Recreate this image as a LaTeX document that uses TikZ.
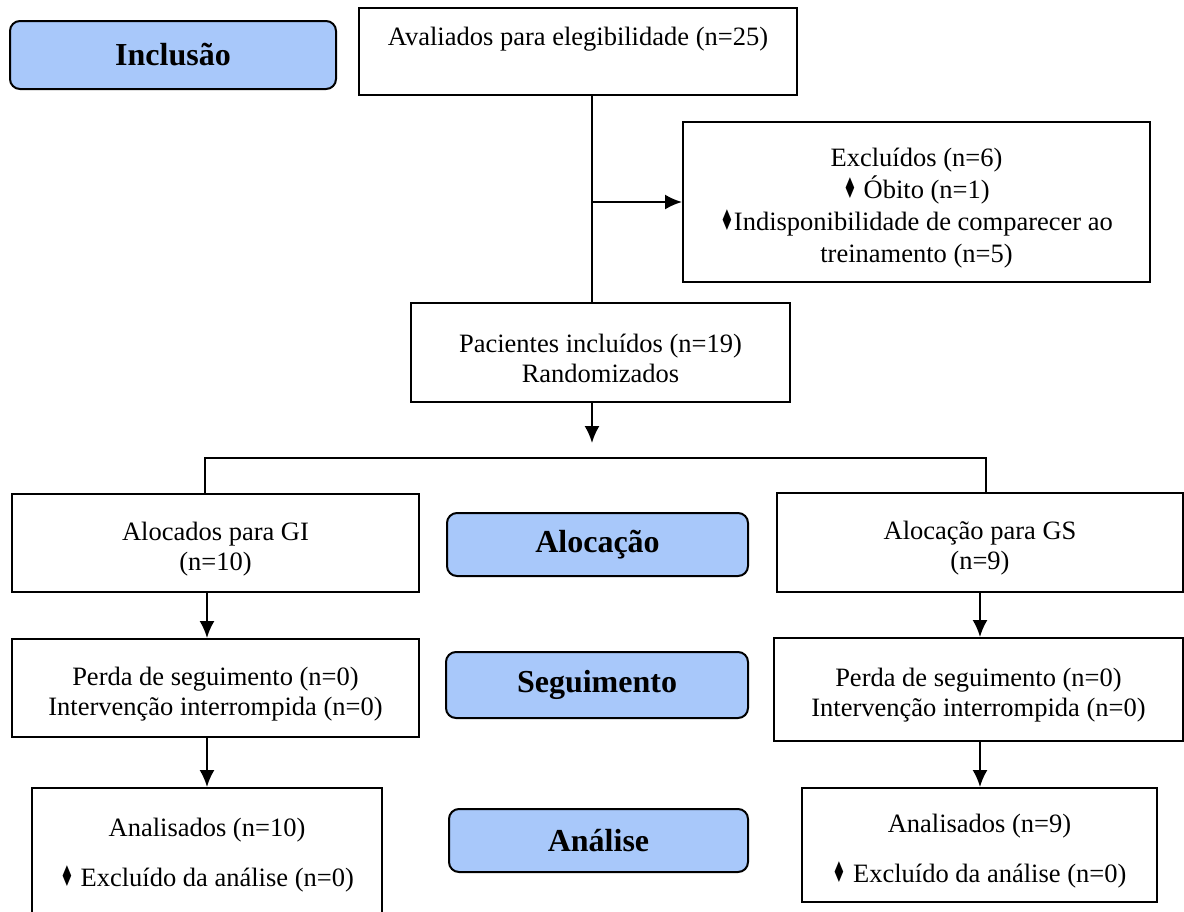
\documentclass[tikz,border=0pt]{standalone}
\usepackage{fontspec}
\setmainfont{Liberation Serif}
\newfontfamily\dejavu{DejaVu Sans}
\usepackage{xcolor}
\usepackage{tikz}
\usetikzlibrary{arrows.meta}
\definecolor{azulclaro}{HTML}{A8C8FA}
\newcommand{\losango}{{\dejavu\fontsize{11pt}{11pt}\selectfont\scalebox{0.7}[1.3]{♦}}}
\newcommand{\alto}{\rule{0pt}{15pt}}

\begin{document}
\begin{tikzpicture}[x=0.5pt, y=-0.5pt, >={Latex[length=8.5pt,width=7.5pt]},
	caixa/.style={draw, line width=1pt, align=center, inner sep=0pt, font=\fontsize{13.25pt}{15pt}\selectfont},
	etapa/.style={draw, line width=1pt, rounded corners=5pt, fill=azulclaro, inner sep=0pt, font=\fontsize{16pt}{18pt}\selectfont\bfseries}]
	\clip (0,0) rectangle (1184,911);
	\node[etapa, minimum width=163pt, minimum height=34pt] (inclusao) at (173,55) {Inclusão};
	\node[etapa, minimum width=150.5pt, minimum height=31.5pt] (alocacao) at (597.5,544.5) {Alocação};
	\node[etapa, minimum width=151pt, minimum height=33pt] (seguimento) at (597,685) {Seguimento};
	\node[etapa, minimum width=149.5pt, minimum height=31.5pt] (analise) at (598.5,840.5) {Análise};
	\node[caixa, minimum width=219pt, minimum height=43.5pt] (avaliados) at (578,51.5) {Avaliados para elegibilidade (n=25)\\ \mbox{}};
	\node[caixa, minimum width=233.5pt, minimum height=80pt, font=\fontsize{13.25pt}{16pt}\selectfont] (excluidos) at (916.5,202) {\alto Excluídos (n=6)\\ \losango\ Óbito (n=1)\\ \losango Indisponibilidade de comparecer ao\\ treinamento (n=5)};
	\node[caixa, minimum width=189.5pt, minimum height=49.5pt] (pacientes) at (600.5,352.5) {\alto Pacientes incluídos (n=19)\\ Randomizados};
	\node[caixa, minimum width=203.5pt, minimum height=49pt] (alocGI) at (215.5,543) {\alto Alocados para GI\\ (n=10)};
	\node[caixa, minimum width=203pt, minimum height=49.5pt] (alocGS) at (980,542.5) {\alto Alocação para GS\\ (n=9)};
	\node[caixa, minimum width=203.5pt, minimum height=49pt] (segGI) at (215.5,688) {\alto Perda de seguimento (n=0)\\ Intervenção interrompida (n=0)};
	\node[caixa, minimum width=204.5pt, minimum height=51.5pt] (segGS) at (978.5,689.5) {\alto Perda de seguimento (n=0)\\ Intervenção interrompida (n=0)};
	\node[caixa, minimum width=175pt, minimum height=67pt] (anaGI) at (207,855) {Analisados (n=10)\\[10pt] \losango\ Excluído da análise (n=0)};
	\node[caixa, minimum width=177.5pt, minimum height=57pt] (anaGS) at (979.5,845) {\alto Analisados (n=9)\\[10pt] \losango\ Excluído da análise (n=0)};
	\coordinate (eixo) at (592,0);
	\coordinate (sorteio) at (592,443);
	\coordinate (ramoGI) at (205,458);
	\coordinate (ramoGS) at (986,458);
	\coordinate (colGI) at (207,0);
	\coordinate (colGS) at (980,0);
	\draw[line width=1pt] (avaliados.south -| eixo) -- (pacientes.north -| eixo);
	\draw[line width=1pt, ->] (excluidos.west -| eixo) -- (excluidos.west);
	\draw[line width=1pt, ->] (pacientes.south -| eixo) -- (sorteio);
	\draw[line width=0.8pt] (alocGI.north -| ramoGI) -- (ramoGI) -- (ramoGS) -- (alocGS.north -| ramoGS);
	\draw[line width=1pt, ->] (alocGI.south -| colGI) -- (segGI.north -| colGI);
	\draw[line width=1pt, ->] (segGI.south -| colGI) -- (anaGI.north -| colGI);
	\draw[line width=1pt, ->] (alocGS.south -| colGS) -- (segGS.north -| colGS);
	\draw[line width=1pt, ->] (segGS.south -| colGS) -- (anaGS.north -| colGS);
\end{tikzpicture}
\end{document}
